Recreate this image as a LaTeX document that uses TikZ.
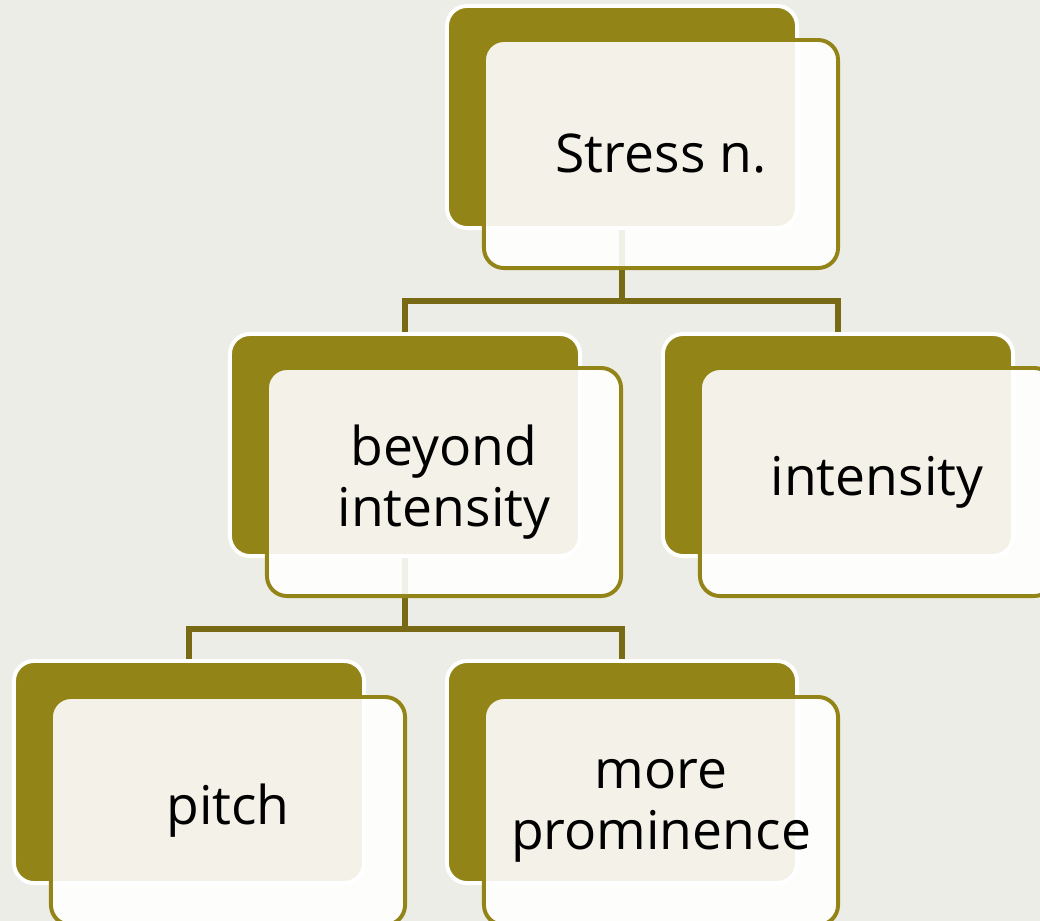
\documentclass[tikz,border=0pt]{standalone}
\usepackage{fontspec}
\setmainfont{Open Sans}
\usepackage{tikz}

\definecolor{olive}{RGB}{147,132,24}
\definecolor{darkolive}{RGB}{120,106,20}
\definecolor{paper}{RGB}{237,237,231}

\tikzset{
  backbox/.style={rectangle, rounded corners=0.5cm, fill=olive, draw=white, line width=2.8pt,
    minimum width=8.75cm, minimum height=5.55cm},
  frontbox/.style={rectangle, rounded corners=0.5cm, fill=white, fill opacity=0.9, text opacity=1,
    draw=olive, line width=2.8pt, minimum width=8.85cm, minimum height=5.7cm,
    align=center, font=\fontsize{38}{43}\selectfont},
  link/.style={draw=darkolive, line width=3.6pt}
}

\begin{document}
\begin{tikzpicture}[x=0.025cm, y=-0.025cm]

\useasboundingbox (0,0) rectangle (1040,921);
\clip (0,0) rectangle (1040,921);
\fill[paper] (0,0) rectangle (1040,921);

\node[backbox] (stressback) at (622,117) {};
\node[backbox] (beyondback) at (405,445) {};
\node[backbox] (intensityback) at (838,445) {};
\node[backbox] (pitchback) at (189,772) {};
\node[backbox] (moreback) at (622,772) {};

\draw[link] (stressback.south) -- ++(0,71) -| (beyondback.north);
\draw[link] (stressback.south) -- ++(0,71) -| (intensityback.north);
\draw[link] (beyondback.south) -- ++(0,71) -| (pitchback.north);
\draw[link] (beyondback.south) -- ++(0,71) -| (moreback.north);

\node[frontbox] (stress) at (661,154) {Stress n.};
\node[frontbox] (beyond) at (444,482) {beyond\\intensity};
\node[frontbox] (intensity) at (877,482) {intensity};
\node[frontbox] (pitch) at (228,811) {pitch};
\node[frontbox] (more) at (661,811) {more\\prominence};

\end{tikzpicture}
\end{document}
